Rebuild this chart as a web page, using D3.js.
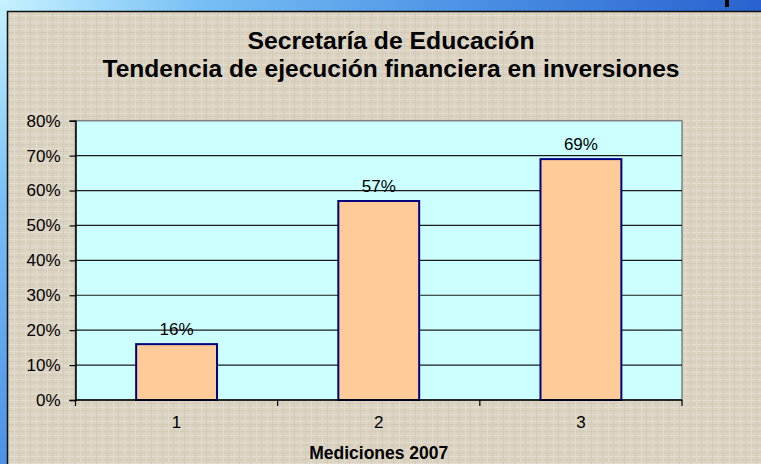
<!DOCTYPE html>
<html>
<head>
<meta charset="utf-8">
<script src="https://d3js.org/d3.v7.min.js"></script>
<style>
  html, body { margin: 0; padding: 0; overflow: hidden; }
  svg { display: block; font-family: "Liberation Sans", Arial, sans-serif; }
</style>
</head>
<body>
<svg id="vis-svg" width="761" height="464"></svg>
<script>
// data
const categories = ['1', '2', '3'];
const values = [0.16, 0.57, 0.69];
const yTicks = [0, 0.1, 0.2, 0.3, 0.4, 0.5, 0.6, 0.7, 0.8];
const titleLines = ['Secretaría de Educación', 'Tendencia de ejecución financiera en inversiones'];
const xTitle = 'Mediciones 2007';

const svg = d3.select('#vis-svg');
const defs = svg.append('defs');

// slide background (blue gradient)
const bg = defs.append('radialGradient')
    .attr('id', 'slideBg')
    .attr('gradientUnits', 'userSpaceOnUse')
    .attr('cx', 0).attr('cy', 0).attr('r', 800);
bg.append('stop').attr('offset', '0').attr('stop-color', '#c6f2ff');
bg.append('stop').attr('offset', '0.25').attr('stop-color', '#78bff5');
bg.append('stop').attr('offset', '0.6').attr('stop-color', '#4a8fe4');
bg.append('stop').attr('offset', '1').attr('stop-color', '#245ccc');

// canvas-like texture for the chart box (kept subtle)
const pat = defs.append('pattern')
    .attr('id', 'canvas')
    .attr('patternUnits', 'userSpaceOnUse')
    .attr('width', 11).attr('height', 7);
pat.append('rect').attr('width', 11).attr('height', 7).attr('fill', '#dbd3c2');
pat.append('rect').attr('x', 0).attr('y', 1).attr('width', 11).attr('height', 1).attr('fill', '#e4ddcf');
pat.append('rect').attr('x', 0).attr('y', 4).attr('width', 11).attr('height', 1).attr('fill', '#d3cab8');
pat.append('rect').attr('x', 3).attr('y', 0).attr('width', 1).attr('height', 7).attr('fill', '#e2dbcc');
pat.append('rect').attr('x', 8).attr('y', 0).attr('width', 1).attr('height', 7).attr('fill', '#d4cbb9');

svg.append('rect')
    .attr('width', 761).attr('height', 464)
    .attr('fill', 'url(#slideBg)');

// small dark glyph peeking at the top right
svg.append('rect')
    .attr('x', 725).attr('y', 0).attr('width', 4).attr('height', 7)
    .attr('fill', '#000');

// chart box
svg.append('rect')
    .attr('x', 7.5).attr('y', 11.5)
    .attr('width', 800).attr('height', 500)
    .attr('fill', 'url(#canvas)')
    .attr('stroke', '#111')
    .attr('stroke-width', 1.5);

// titles
const titleWidths = [287, 577];
svg.selectAll('.title')
    .data(titleLines)
    .enter().append('text')
    .attr('class', 'title')
    .attr('x', 391)
    .attr('y', (d, i) => 49 + i * 28)
    .attr('text-anchor', 'middle')
    .attr('textLength', (d, i) => titleWidths[i])
    .attr('lengthAdjust', 'spacingAndGlyphs')
    .style('font-weight', 'bold')
    .style('font-size', '23.5px')
    .text(d => d);

// plot area
const plotLeft = 75.5, plotRight = 682, plotTop = 120.7, plotBottom = 400;

const x = d3.scaleBand()
    .domain(categories)
    .range([plotLeft, plotRight])
    .padding(0);

const y = d3.scaleLinear()
    .domain([0, 0.8])
    .range([plotBottom, plotTop]);

svg.append('rect')
    .attr('x', plotLeft).attr('y', plotTop)
    .attr('width', plotRight - plotLeft).attr('height', plotBottom - plotTop)
    .attr('fill', '#ccffff')
    .attr('stroke', '#808080')
    .attr('stroke-width', 1.5);

// gridlines
svg.selectAll('.grid')
    .data(yTicks.filter(d => d > 0 && d < 0.8))
    .enter().append('line')
    .attr('class', 'grid')
    .attr('x1', plotLeft).attr('x2', plotRight)
    .attr('y1', d => y(d)).attr('y2', d => y(d))
    .attr('stroke', '#1a1a1a')
    .attr('stroke-width', 1.2);

// bars
const barW = x.bandwidth() * 0.4;
svg.selectAll('.bar')
    .data(values)
    .enter().append('rect')
    .attr('class', 'bar')
    .attr('x', (d, i) => x(categories[i]) + (x.bandwidth() - barW) / 2)
    .attr('y', d => y(d))
    .attr('width', barW)
    .attr('height', d => y(0) - y(d))
    .attr('fill', '#ffcc99')
    .attr('stroke', '#000080')
    .attr('stroke-width', 2);

// value labels
svg.selectAll('.val')
    .data(values)
    .enter().append('text')
    .attr('class', 'val')
    .attr('x', (d, i) => x(categories[i]) + x.bandwidth() / 2)
    .attr('y', d => y(d) - 9)
    .attr('text-anchor', 'middle')
    .style('font-size', '17px')
    .text(d => d3.format('.0%')(d));

// y axis
const yAxis = d3.axisLeft(y)
    .tickValues(yTicks)
    .tickFormat(d3.format('.0%'))
    .tickSize(6)
    .tickPadding(9);

svg.append('g')
    .attr('transform', `translate(${plotLeft},0)`)
    .call(yAxis)
    .call(g => g.select('.domain').attr('stroke', '#000').attr('stroke-width', 1.5))
    .call(g => g.selectAll('.tick line').attr('stroke', '#000').attr('stroke-width', 1.2))
    .call(g => g.selectAll('.tick text')
        .attr('fill', '#000')
        .style('font-size', '17px')
        .style('font-family', '"Liberation Sans", Arial, sans-serif'));

// x axis: ticks at category boundaries
const xAxisG = svg.append('g')
    .attr('transform', `translate(0,${plotBottom})`);

xAxisG.append('line')
    .attr('x1', plotLeft).attr('x2', plotRight)
    .attr('stroke', '#000').attr('stroke-width', 1.5);

const boundaries = categories.map(c => x(c)).concat([x(categories[categories.length - 1]) + x.bandwidth()]);
xAxisG.selectAll('.xtick')
    .data(boundaries)
    .enter().append('line')
    .attr('class', 'xtick')
    .attr('x1', d => d).attr('x2', d => d)
    .attr('y1', 0).attr('y2', 6)
    .attr('stroke', '#000').attr('stroke-width', 1.2);

xAxisG.selectAll('.xlabel')
    .data(categories)
    .enter().append('text')
    .attr('class', 'xlabel')
    .attr('x', d => x(d) + x.bandwidth() / 2)
    .attr('y', 28)
    .attr('text-anchor', 'middle')
    .style('font-size', '17px')
    .text(d => d);

// x axis title
svg.append('text')
    .attr('x', (plotLeft + plotRight) / 2)
    .attr('y', 459)
    .attr('text-anchor', 'middle')
    .style('font-weight', 'bold')
    .style('font-size', '17.5px')
    .text(xTitle);
</script>
</body>
</html>
